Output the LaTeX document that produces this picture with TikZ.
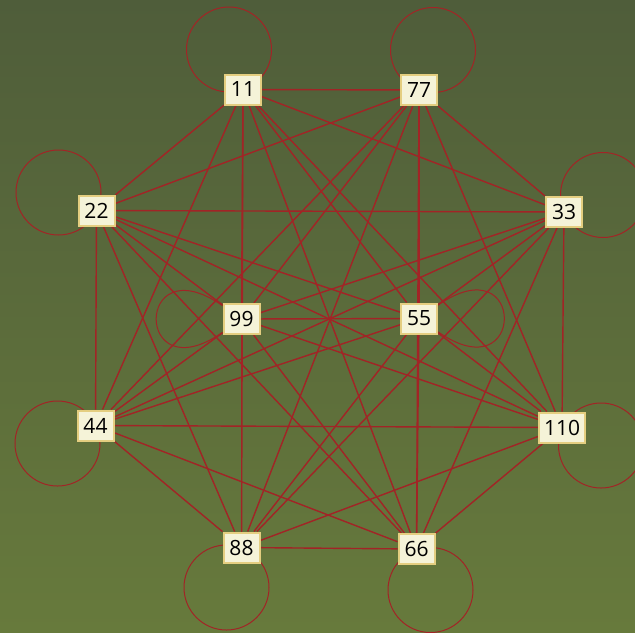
\documentclass[tikz,border=0pt]{standalone}
\usepackage{fontspec}
\setmainfont{Open Sans}
\pgfdeclarelayer{back}
\pgfsetlayers{back,main}
\definecolor{bgtop}{RGB}{79,93,58}
\definecolor{bgbottom}{RGB}{103,122,60}
\definecolor{linkred}{RGB}{162,36,38}
\definecolor{boxfill}{RGB}{245,243,216}
\definecolor{boxline}{RGB}{228,206,128}
\begin{document}
\begin{tikzpicture}[x=0.5pt, y=-0.5pt, font=\fontsize{10.5}{12}\selectfont]
    \tikzstyle{num}=[draw=boxline, line width=1pt, fill=boxfill, minimum width=18pt, minimum height=15pt, inner xsep=2.6pt, inner ysep=0pt]
    \tikzstyle{link}=[draw=linkred, line width=0.7pt]
    \tikzstyle{selfloop}=[draw=linkred, line width=0.5pt]
    \useasboundingbox (0,0) rectangle (635,632);
    \node[num] (n11) at (243,89.5) {11};
    \node[num] (n77) at (419,90) {77};
    \node[num] (n22) at (96.5,210.5) {22};
    \node[num] (n33) at (564,212) {33};
    \node[num] (n99) at (241.5,319) {99};
    \node[num] (n55) at (419,318.5) {55};
    \node[num] (n44) at (95.5,425.5) {44};
    \node[num] (n110) at (562,427.5) {110};
    \node[num] (n88) at (241.5,547.5) {88};
    \node[num] (n66) at (416.5,549) {66};
    \begin{pgfonlayer}{back}
      \fill[top color=bgtop, bottom color=bgbottom] (0,0) rectangle (635,632);
      % every pair of numbers
      \foreach \a [count=\i] in {11,77,22,33,99,55,44,110,88,66}
        \foreach \b [count=\j] in {11,77,22,33,99,55,44,110,88,66}
          {\ifnum\i<\j \draw[link] (n\a) -- (n\b); \fi}
      % loops
      \foreach \a/\dx/\dy in {11/-14/-40, 77/14/-40, 22/-38/-18, 33/39/-17, 44/-38/18, 110/39/18, 88/-15/40, 66/14/41}
        \draw[selfloop] (n\a.center) ++(\dx,\dy) circle[radius=21.25pt];
      \draw[selfloop] (n99) to[out=145, in=215, distance=54pt] (n99);
      \draw[selfloop] (n55) to[out=35, in=-35, distance=54pt] (n55);
    \end{pgfonlayer}
\end{tikzpicture}
\end{document}
